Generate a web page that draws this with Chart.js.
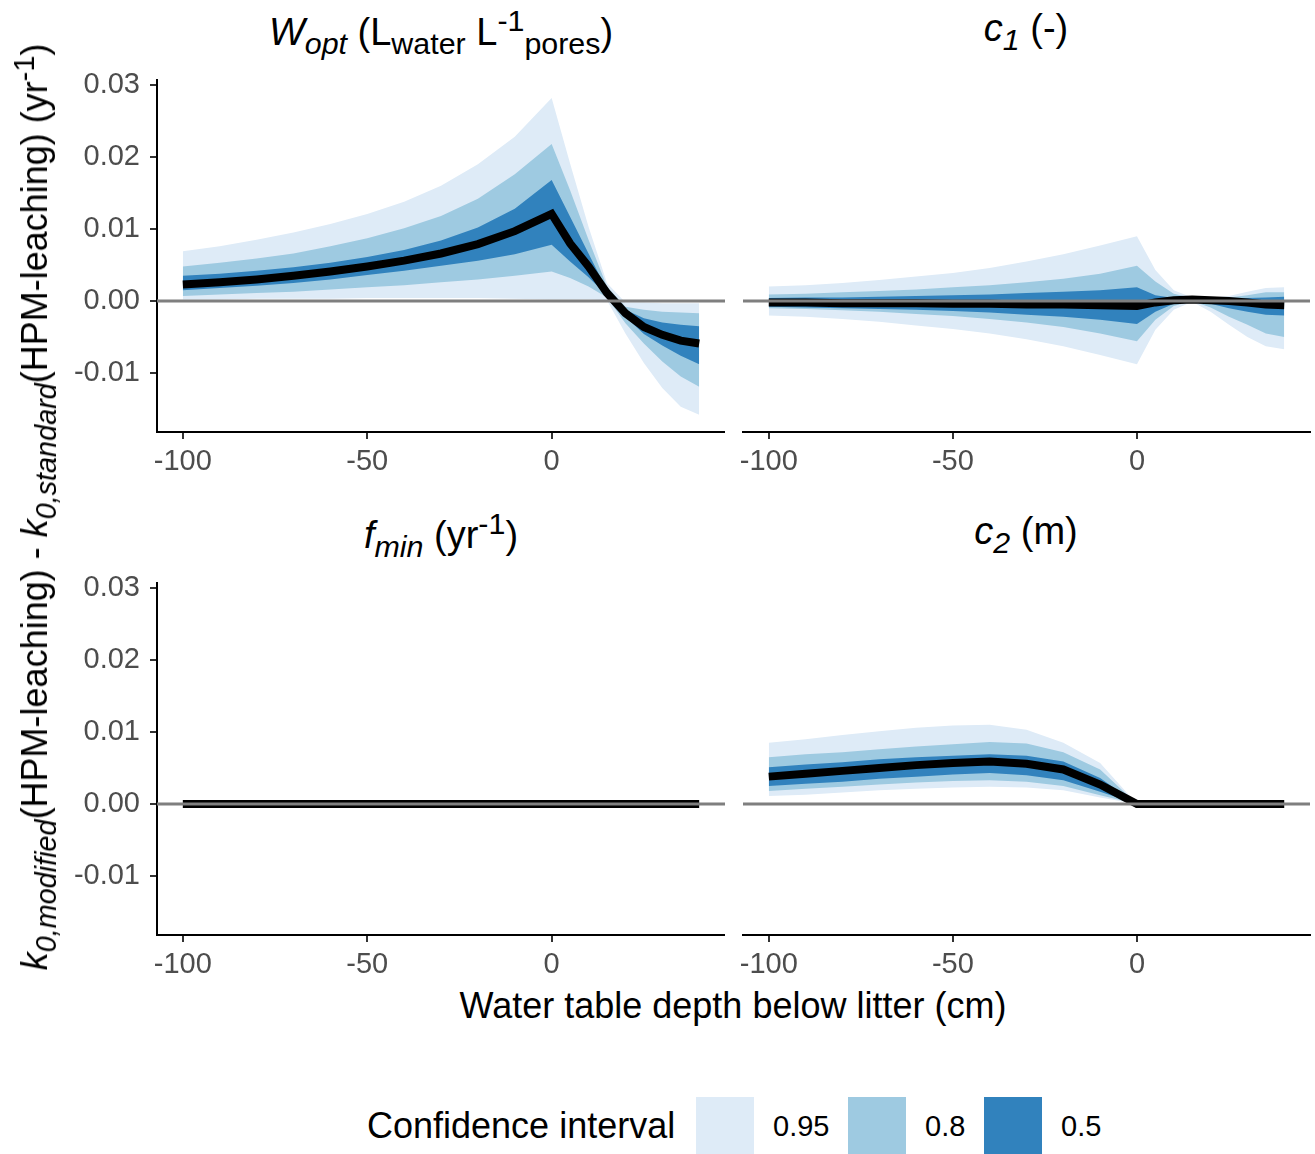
<!DOCTYPE html>
<html>
<head>
<meta charset="utf-8">
<script src="https://cdn.jsdelivr.net/npm/chart.js@4.4.1/dist/chart.umd.min.js"></script>
<style>
  body { margin: 0; background: #fff; }
  #wrap { position: relative; width: 1315px; height: 1154px; background: #fff; font-family: "Liberation Sans", Arial, Helvetica, sans-serif; color: #000; }
  canvas { position: absolute; }
  .txt { position: absolute; white-space: nowrap; font-size: 36px; line-height: 36px; }
  .strip { font-size: 38px; line-height: 38px; }
  .sub { font-size: 0.8em; position: relative; top: 0.3em; }
  .sup { font-size: 0.8em; position: relative; top: -0.45em; }
  .key { position: absolute; width: 58px; height: 57px; top: 1097px; }
  .lab { position: absolute; font-size: 29px; line-height: 29px; top: 1112px; }
</style>
</head>
<body>
<div id="wrap">
  <canvas id="pWopt" width="665" height="410" style="left:60px;top:70px"></canvas>
  <canvas id="pC1" width="580" height="410" style="left:735px;top:70px"></canvas>
  <canvas id="pFmin" width="665" height="410" style="left:60px;top:573px"></canvas>
  <canvas id="pC2" width="580" height="410" style="left:735px;top:573px"></canvas>

  <!-- facet titles -->
  <div class="txt strip" style="left:441px;top:13px;transform:translateX(-50%)"><i>W<span class="sub">opt</span></i> (L<span class="sub">water</span> L<span class="sup">-1</span><span class="sub">pores</span>)</div>
  <div class="txt strip" style="left:1026px;top:9px;transform:translateX(-50%)"><i>c<span class="sub">1</span></i> (-)</div>
  <div class="txt strip" style="left:441px;top:516px;transform:translateX(-50%)"><i>f<span class="sub">min</span></i> (yr<span class="sup">-1</span>)</div>
  <div class="txt strip" style="left:1026px;top:512px;transform:translateX(-50%)"><i>c<span class="sub">2</span></i> (m)</div>

  <!-- axis titles -->
  <div class="txt" style="left:36px;top:507px;transform:translate(-50%,-50%) rotate(-90deg)"><i>k<span class="sub">0,modified</span></i>(HPM-leaching) - <i>k<span class="sub">0,standard</span></i>(HPM-leaching) (yr<span class="sup">-1</span>)</div>
  <div class="txt" style="left:733px;top:988px;transform:translateX(-50%)">Water table depth below litter (cm)</div>

  <!-- legend -->
  <div class="txt" style="left:367px;top:1108px">Confidence interval</div>
  <div class="key" style="left:696px;background:#DEEBF7"></div>
  <div class="lab" style="left:773px">0.95</div>
  <div class="key" style="left:848px;background:#9ECAE1"></div>
  <div class="lab" style="left:925px">0.8</div>
  <div class="key" style="left:984px;background:#3182BD"></div>
  <div class="lab" style="left:1061px">0.5</div>
</div>

<script>
// water table depth (cm), shared by all panels
const depth = [-100, -90, -80, -70, -60, -50, -40, -30, -20, -10, 0, 5, 10, 15, 20, 25, 30, 35, 40];

// axis ticks
const xTicks = [-100, -50, 0];
const yTicks = [-0.01, 0, 0.01, 0.02, 0.03];

// W_opt panel
const wOptMean = [0.0023, 0.0026, 0.0030, 0.0035, 0.0041, 0.0048, 0.0056, 0.0066, 0.0079, 0.0097, 0.0121, 0.0080, 0.0048, 0.0011, -0.0017, -0.0036, -0.0047, -0.0055, -0.0059];
const wOptLo95 = [0.0002, 0.0002, 0.0003, 0.0003, 0.0003, 0.0004, 0.0004, 0.0004, 0.0004, 0.0003, 0.0002, 0.0002, 0.0002, 0.0001, -0.0045, -0.0086, -0.0121, -0.0147, -0.0158];
const wOptHi95 = [0.0069, 0.0076, 0.0085, 0.0095, 0.0107, 0.0121, 0.0138, 0.0160, 0.0190, 0.0228, 0.0282, 0.0191, 0.0103, 0.0025, -0.0002, -0.0002, -0.0003, -0.0003, -0.0003];
const wOptLo80 = [0.0007, 0.0009, 0.0011, 0.0013, 0.0016, 0.0019, 0.0022, 0.0026, 0.0030, 0.0035, 0.0041, 0.0032, 0.0020, 0.0005, -0.0031, -0.0059, -0.0084, -0.0105, -0.0119];
const wOptHi80 = [0.0048, 0.0053, 0.0059, 0.0066, 0.0076, 0.0087, 0.0101, 0.0118, 0.0142, 0.0176, 0.0218, 0.0154, 0.0085, 0.0020, -0.0008, -0.0012, -0.0015, -0.0016, -0.0017];
const wOptLo50 = [0.0015, 0.0018, 0.0021, 0.0025, 0.0030, 0.0036, 0.0042, 0.0049, 0.0056, 0.0065, 0.0078, 0.0055, 0.0033, 0.0008, -0.0022, -0.0046, -0.0062, -0.0076, -0.0088];
const wOptHi50 = [0.0035, 0.0038, 0.0042, 0.0047, 0.0053, 0.0061, 0.0071, 0.0084, 0.0102, 0.0128, 0.0168, 0.0117, 0.0066, 0.0015, -0.0012, -0.0024, -0.0030, -0.0033, -0.0035];

// c1 panel
const c1Mean = [-0.0002, -0.0002, -0.0003, -0.0003, -0.0003, -0.0004, -0.0004, -0.0005, -0.0005, -0.0006, -0.0007, -0.0002, 0.0001, 0.0002, 0.0001, 0.0000, -0.0002, -0.0005, -0.0006];
const c1Lo95 = [-0.0020, -0.0022, -0.0025, -0.0029, -0.0034, -0.0039, -0.0045, -0.0053, -0.0063, -0.0075, -0.0088, -0.0040, -0.0012, -0.0001, -0.0015, -0.0033, -0.0050, -0.0063, -0.0067];
const c1Hi95 = [0.0020, 0.0022, 0.0025, 0.0029, 0.0034, 0.0039, 0.0046, 0.0055, 0.0065, 0.0077, 0.0090, 0.0043, 0.0015, 0.0005, 0.0004, 0.0007, 0.0013, 0.0018, 0.0019];
const c1Lo80 = [-0.0010, -0.0011, -0.0013, -0.0015, -0.0018, -0.0021, -0.0025, -0.0030, -0.0036, -0.0045, -0.0056, -0.0026, -0.0007, 0.0000, -0.0009, -0.0022, -0.0033, -0.0045, -0.0050];
const c1Hi80 = [0.0009, 0.0010, 0.0012, 0.0014, 0.0016, 0.0019, 0.0022, 0.0026, 0.0031, 0.0038, 0.0049, 0.0027, 0.0010, 0.0004, 0.0003, 0.0005, 0.0008, 0.0012, 0.0012];
const c1Lo50 = [-0.0008, -0.0009, -0.0010, -0.0011, -0.0012, -0.0014, -0.0016, -0.0019, -0.0022, -0.0026, -0.0032, -0.0015, -0.0004, 0.0001, -0.0004, -0.0010, -0.0015, -0.0019, -0.0020];
const c1Hi50 = [0.0004, 0.0005, 0.0005, 0.0006, 0.0007, 0.0008, 0.0009, 0.0011, 0.0013, 0.0015, 0.0019, 0.0008, 0.0004, 0.0003, 0.0002, 0.0002, 0.0004, 0.0005, 0.0006];

// f_min panel (no effect)
const fMinMean = [0, 0, 0, 0, 0, 0, 0, 0, 0, 0, 0, 0, 0, 0, 0, 0, 0, 0, 0];
const fMinLo95 = [0, 0, 0, 0, 0, 0, 0, 0, 0, 0, 0, 0, 0, 0, 0, 0, 0, 0, 0];
const fMinHi95 = [0, 0, 0, 0, 0, 0, 0, 0, 0, 0, 0, 0, 0, 0, 0, 0, 0, 0, 0];
const fMinLo80 = [0, 0, 0, 0, 0, 0, 0, 0, 0, 0, 0, 0, 0, 0, 0, 0, 0, 0, 0];
const fMinHi80 = [0, 0, 0, 0, 0, 0, 0, 0, 0, 0, 0, 0, 0, 0, 0, 0, 0, 0, 0];
const fMinLo50 = [0, 0, 0, 0, 0, 0, 0, 0, 0, 0, 0, 0, 0, 0, 0, 0, 0, 0, 0];
const fMinHi50 = [0, 0, 0, 0, 0, 0, 0, 0, 0, 0, 0, 0, 0, 0, 0, 0, 0, 0, 0];

// c2 panel
const c2Mean = [0.0038, 0.0042, 0.0046, 0.0050, 0.0054, 0.0057, 0.0059, 0.0056, 0.0048, 0.0027, 0, 0, 0, 0, 0, 0, 0, 0, 0];
const c2Lo95 = [0.0011, 0.0013, 0.0016, 0.0019, 0.0021, 0.0023, 0.0024, 0.0023, 0.0019, 0.0009, 0, 0, 0, 0, 0, 0, 0, 0, 0];
const c2Hi95 = [0.0085, 0.0090, 0.0096, 0.0101, 0.0106, 0.0109, 0.0110, 0.0103, 0.0085, 0.0057, 0, 0, 0, 0, 0, 0, 0, 0, 0];
const c2Lo80 = [0.0018, 0.0021, 0.0024, 0.0027, 0.0030, 0.0032, 0.0033, 0.0031, 0.0025, 0.0012, 0, 0, 0, 0, 0, 0, 0, 0, 0];
const c2Hi80 = [0.0065, 0.0069, 0.0072, 0.0076, 0.0080, 0.0083, 0.0086, 0.0084, 0.0072, 0.0048, 0, 0, 0, 0, 0, 0, 0, 0, 0];
const c2Lo50 = [0.0025, 0.0028, 0.0031, 0.0035, 0.0038, 0.0041, 0.0043, 0.0040, 0.0033, 0.0017, 0, 0, 0, 0, 0, 0, 0, 0, 0];
const c2Hi50 = [0.0051, 0.0055, 0.0058, 0.0062, 0.0065, 0.0067, 0.0069, 0.0067, 0.0059, 0.0036, 0, 0, 0, 0, 0, 0, 0, 0, 0];

const col95 = '#DEEBF7';
const col80 = '#9ECAE1';
const col50 = '#3182BD';

// grey reference line at zero
const zeroLine = {
    id: 'zeroLine',
    afterDatasetsDraw(chart) {
        const ctx = chart.ctx;
        const y = chart.scales.y.getPixelForValue(0);
        ctx.save();
        ctx.strokeStyle = '#7F7F7F';
        ctx.lineWidth = 3;
        ctx.beginPath();
        ctx.moveTo(chart.chartArea.left, y);
        ctx.lineTo(chart.chartArea.right, y);
        ctx.stroke();
        ctx.restore();
    }
};

function pts(values) {
    return values.map((v, i) => ({ x: depth[i], y: v }));
}

function band(values, color, fill) {
    return { data: pts(values), backgroundColor: color, borderWidth: 0, pointRadius: 0, fill: fill, tension: 0 };
}

// keep panel sizes fixed, like ggplot facets
function fixX(scale) {
    scale.height = 48;
    scale.paddingLeft = 0;
    scale.paddingRight = 0;
}
function fixY(scale) {
    scale.width = 97;
    scale.paddingTop = 0;
    scale.paddingBottom = 0;
}

function drawPanel(id, s, leftPanel) {
    const tickFont = { family: 'Liberation Sans', size: 29 };
    new Chart(document.getElementById(id), {
        type: 'line',
        data: {
            datasets: [
                { data: pts(s.mean), borderColor: '#000', borderWidth: 8, pointRadius: 0, fill: false, tension: 0 },
                band(s.hi50, col50, '+1'),
                band(s.lo50, col50, false),
                band(s.hi80, col80, '+1'),
                band(s.lo80, col80, false),
                band(s.hi95, col95, '+1'),
                band(s.lo95, col95, false)
            ]
        },
        options: {
            responsive: false,
            animation: false,
            devicePixelRatio: 1,
            layout: { padding: { top: 10, left: leftPanel ? 0 : 8, right: leftPanel ? 0 : 5, bottom: 0 } },
            plugins: { legend: { display: false }, tooltip: { enabled: false } },
            scales: {
                x: {
                    type: 'linear',
                    min: -107,
                    max: 47,
                    afterBuildTicks: scale => { scale.ticks = xTicks.map(v => ({ value: v })); },
                    afterFit: fixX,
                    grid: { display: true, drawOnChartArea: false, drawTicks: true, tickLength: 7, color: '#333', lineWidth: 2 },
                    border: { display: true, color: '#000', width: 2 },
                    ticks: { font: tickFont, color: '#4D4D4D', padding: 6, maxRotation: 0, autoSkip: false, callback: v => String(v) }
                },
                y: {
                    display: leftPanel,
                    min: -0.0182,
                    max: 0.0307,
                    afterBuildTicks: scale => { scale.ticks = yTicks.map(v => ({ value: v })); },
                    afterFit: leftPanel ? fixY : undefined,
                    grid: { display: true, drawOnChartArea: false, drawTicks: true, tickLength: 7, color: '#333', lineWidth: 2 },
                    border: { display: true, color: '#000', width: 2 },
                    ticks: { font: tickFont, color: '#4D4D4D', padding: 10, callback: v => v.toFixed(2) }
                }
            }
        },
        plugins: [zeroLine]
    });
}

drawPanel('pWopt', { mean: wOptMean, lo95: wOptLo95, hi95: wOptHi95, lo80: wOptLo80, hi80: wOptHi80, lo50: wOptLo50, hi50: wOptHi50 }, true);
drawPanel('pC1', { mean: c1Mean, lo95: c1Lo95, hi95: c1Hi95, lo80: c1Lo80, hi80: c1Hi80, lo50: c1Lo50, hi50: c1Hi50 }, false);
drawPanel('pFmin', { mean: fMinMean, lo95: fMinLo95, hi95: fMinHi95, lo80: fMinLo80, hi80: fMinHi80, lo50: fMinLo50, hi50: fMinHi50 }, true);
drawPanel('pC2', { mean: c2Mean, lo95: c2Lo95, hi95: c2Hi95, lo80: c2Lo80, hi80: c2Hi80, lo50: c2Lo50, hi50: c2Hi50 }, false);
</script>
</body>
</html>
